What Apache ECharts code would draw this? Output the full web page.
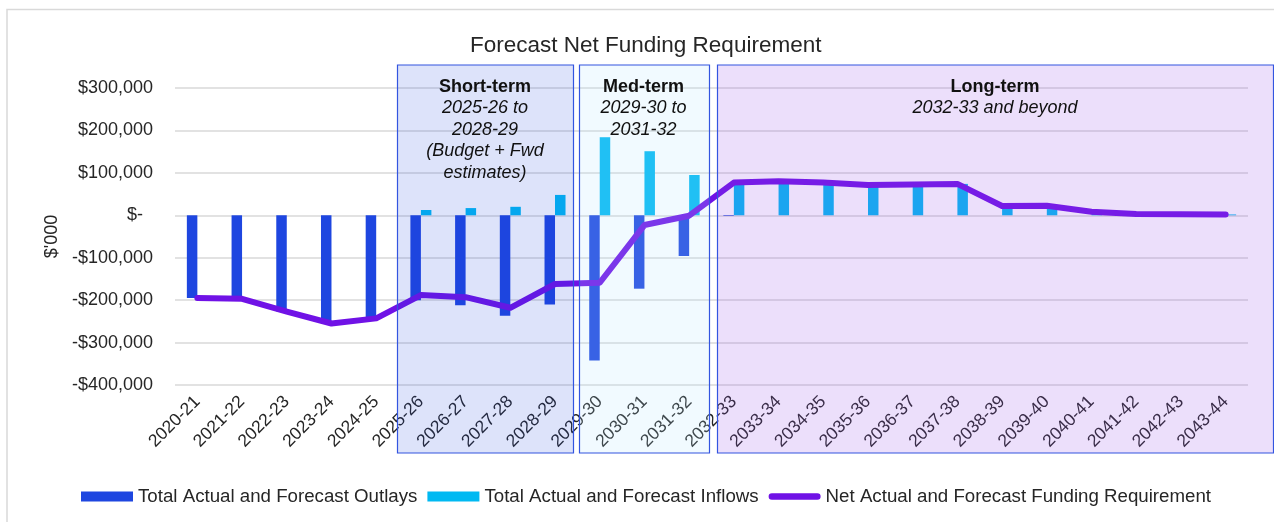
<!DOCTYPE html>
<html>
<head>
<meta charset="utf-8">
<script src="https://cdn.jsdelivr.net/npm/echarts@6/dist/echarts.min.js"></script>
<style>
  html, body { margin: 0; padding: 0; background: #fff; }
  #chart { width: 1274px; height: 522px; }
</style>
</head>
<body>
<div id="chart"></div>
<script>
// financial years
var years = ["2020-21","2021-22","2022-23","2023-24","2024-25","2025-26","2026-27","2027-28",
             "2028-29","2029-30","2030-31","2031-32","2032-33","2033-34","2034-35","2035-36",
             "2036-37","2037-38","2038-39","2039-40","2040-41","2041-42","2042-43","2043-44"];
// $'000
var outlays = [-195000,-197000,-227000,-255000,-243000,-200000,-212000,-237000,
               -210000,-342000,-173000,-96000,-1500,0,0,0,
               0,0,0,0,0,0,0,0];
var inflows = [0,0,0,0,0,12500,17000,20000,
               48000,184000,151000,95000,77000,80000,77000,72000,
               72000,74000,22000,22000,8500,3000,2500,2000];
var netReq  = [-195000,-197000,-227000,-255000,-243000,-188000,-193000,-218000,
               -162000,-159000,-23000,-1000,77000,80000,77000,71500,
               72500,74000,22000,22500,8500,3000,2500,2000];

var FONT = "'Liberation Sans', Arial, sans-serif";
var chart = echarts.init(document.getElementById('chart'));

function money(v){
    if (v === 0) return '$-  ';
    var s = Math.abs(v).toString().replace(/\B(?=(\d{3})+(?!\d))/g, ',');
    return (v < 0 ? '-$' : '$') + s;
}

// period boxes drawn over the plot
function box(x, w, fill){
    return {
        type: 'rect', z: 100, silent: true,
        shape: { x: x, y: 65, width: w, height: 388 },
        style: { fill: fill, stroke: '#3355E0', lineWidth: 1.2 }
    };
}
function label(x, y, text, bold){
    return {
        type: 'text', z: 101, silent: true,
        style: {
            x: x, y: y, text: text, align: 'center', verticalAlign: 'top',
            fontFamily: FONT, fontSize: 18, lineHeight: 21.5,
            fontWeight: bold ? 'bold' : 'normal',
            fontStyle: bold ? 'normal' : 'italic',
            fill: '#111'
        }
    };
}

// capsule shaped legend icon for the line series
var lineIcon = 'path://M3.3,0 L48.7,0 A3.3,3.3 0 0 1 48.7,6.6 L3.3,6.6 A3.3,3.3 0 0 1 3.3,0 Z';

var option = {
    animation: false,
    textStyle: { fontFamily: FONT },
    title: {
        text: 'Forecast Net Funding Requirement',
        left: 465, top: 29,
        textStyle: { fontSize: 22.5, fontWeight: 'normal', color: '#262626', fontFamily: FONT }
    },
    legend: {
        left: 76, top: 482,
        itemWidth: 52, itemHeight: 10, itemGap: 10,
        textStyle: { fontSize: 18.7, color: '#262626', fontFamily: FONT },
        data: [
            { name: 'Total Actual and Forecast Outlays', icon: 'rect' },
            { name: 'Total Actual and Forecast Inflows', icon: 'rect' },
            { name: 'Net Actual and Forecast Funding Requirement', icon: lineIcon }
        ]
    },
    grid: { left: 175, right: 26, top: 88, bottom: 137 },
    xAxis: {
        type: 'category',
        data: years,
        axisLine: { show: false },
        axisTick: { show: false },
        axisLabel: { rotate: 45, fontSize: 17.5, color: '#262626', margin: 14, interval: 0 }
    },
    yAxis: {
        type: 'value',
        min: -400000, max: 300000, interval: 100000,
        name: "$'000", nameLocation: 'middle', nameRotate: 90, nameGap: 112,
        nameTextStyle: { fontSize: 18, color: '#262626' },
        axisLabel: { fontSize: 18, color: '#262626', margin: 22, formatter: money },
        splitLine: { lineStyle: { color: '#D9D9D9', width: 1.5 } }
    },
    series: [
        {
            name: 'Total Actual and Forecast Outlays',
            type: 'bar', barWidth: 10.5, barGap: '0%',
            itemStyle: { color: '#1E46E0' },
            data: outlays
        },
        {
            name: 'Total Actual and Forecast Inflows',
            type: 'bar', barWidth: 10.5, barGap: '0%',
            itemStyle: { color: '#00B9F2' },
            data: inflows
        },
        {
            name: 'Net Actual and Forecast Funding Requirement',
            type: 'line', z: 5,
            symbol: 'none', showSymbol: false,
            lineStyle: { color: '#7012E6', width: 6, cap: 'round', join: 'round' },
            itemStyle: { color: '#7012E6' },
            data: netReq
        }
    ],
    graphic: [
        { type: 'rect', z: 0, silent: true,
          shape: { x: 7, y: 9.5, width: 1300, height: 600 },
          style: { fill: 'none', stroke: '#D9D9D9', lineWidth: 1.5 } },
        box(397.5, 176, 'rgba(30,70,224,0.15)'),
        box(579.5, 130, 'rgba(180,225,255,0.18)'),
        box(717.5, 556, 'rgba(150,80,235,0.18)'),
        label(485, 76, 'Short-term', true),
        label(485, 97.5, '2025-26 to\n2028-29\n(Budget + Fwd\nestimates)', false),
        label(643.5, 76, 'Med-term', true),
        label(643.5, 97.5, '2029-30 to\n2031-32', false),
        label(995, 76, 'Long-term', true),
        label(995, 97.5, '2032-33 and beyond', false)
    ]
};

chart.setOption(option);
</script>
</body>
</html>
